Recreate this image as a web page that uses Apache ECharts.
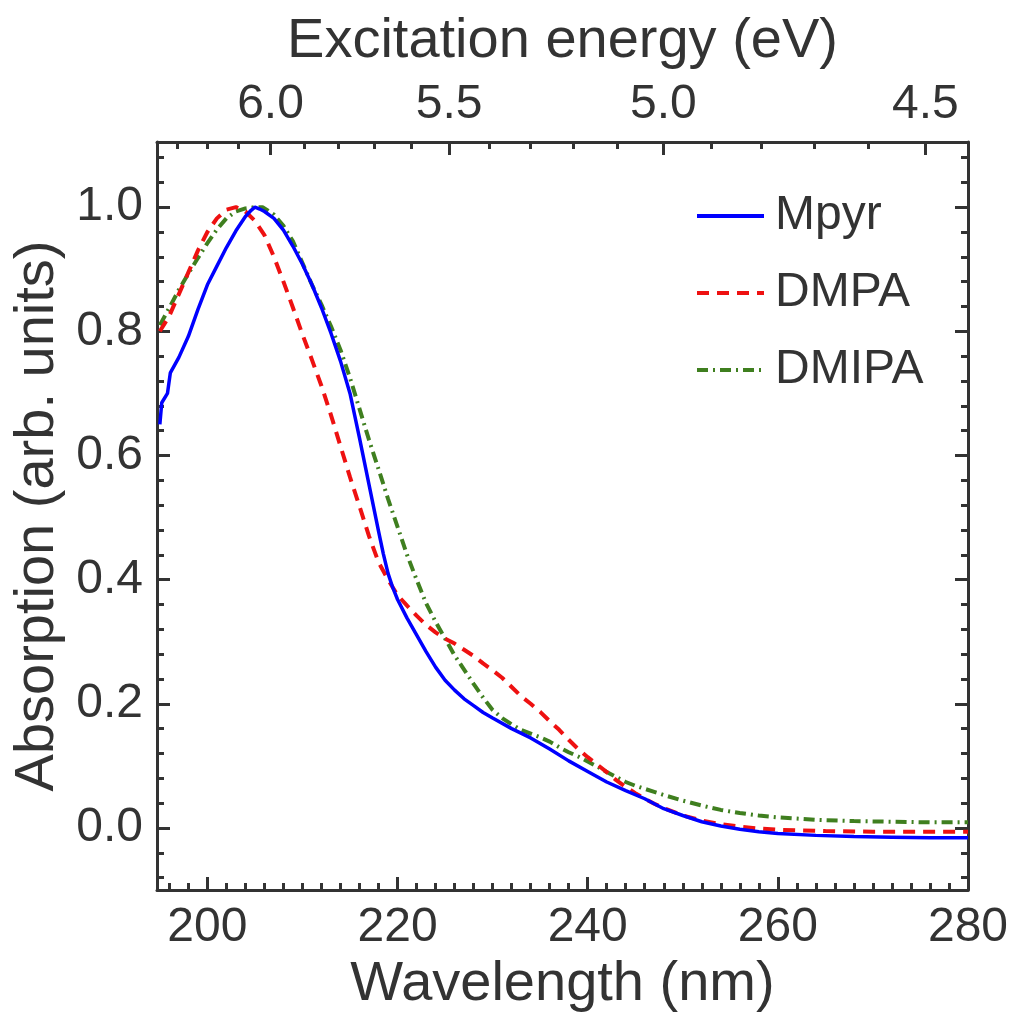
<!DOCTYPE html>
<html>
<head>
<meta charset="utf-8">
<script src="https://cdn.jsdelivr.net/npm/echarts@6/dist/echarts.min.js"></script>
<style>
html,body{margin:0;padding:0;background:#fff;}
#chart{width:1016px;height:1019px;}
</style>
</head>
<body>
<div id="chart"></div>
<script>
// ---------- data ----------
const mpyrWl  = [195.0,195.2,195.8,196.1,197,198,199,200,201,202,203,204,204.6,205,205.5,206,207,208,209,210,211,212,213,214,215,216,217,218,218.5,219,219.5,220,221,222,223,224,225,226,227,228,229,230,232,234,236,238,240,242,244,246,248,250,252,254,256,258,260,264,268,272,276,280];
const mpyrAbs = [0.65,0.685,0.70,0.733,0.758,0.792,0.835,0.875,0.905,0.935,0.962,0.985,0.995,1.0,0.997,0.993,0.982,0.963,0.937,0.908,0.875,0.838,0.797,0.752,0.70,0.628,0.553,0.478,0.442,0.41,0.387,0.368,0.338,0.311,0.284,0.259,0.238,0.222,0.208,0.197,0.186,0.177,0.16,0.145,0.127,0.108,0.091,0.074,0.06,0.047,0.031,0.02,0.01,0.003,-0.002,-0.006,-0.009,-0.012,-0.014,-0.015,-0.016,-0.016];

const dmpaWl  = [195,196,197,198,199,200,201,202,203,204,205,206,207,208,209,210,211,212,213,214,215,216,217,218,219,220,221,222,223,224,225,226,227,228,229,230,231,232,233,234,235,236,237,238,239,240,241,242,243,244,245,246,247,248,250,252,254,256,258,260,265,270,275,280];
const dmpaAbs = [0.80,0.825,0.86,0.895,0.93,0.96,0.982,0.996,1.0,0.993,0.978,0.955,0.92,0.88,0.838,0.795,0.754,0.712,0.665,0.615,0.565,0.518,0.47,0.428,0.40,0.375,0.358,0.342,0.327,0.315,0.305,0.297,0.287,0.277,0.265,0.254,0.242,0.227,0.212,0.20,0.187,0.172,0.158,0.142,0.127,0.114,0.102,0.09,0.077,0.066,0.056,0.047,0.039,0.032,0.02,0.012,0.006,0.002,-0.001,-0.003,-0.005,-0.006,-0.006,-0.006];

const dmipaWl  = [195,196,197,198,199,200,201,202,203,204,205,205.8,206,207,208,209,210,211,212,213,214,215,216,217,218,219,220,221,222,223,224,225,226,227,228,229,230,231,232,233,234,235,236,237,238,239,240,241,242,243,244,245,246,247,248,250,252,254,256,258,260,264,268,272,276,280];
const dmipaAbs = [0.81,0.838,0.867,0.893,0.918,0.942,0.964,0.982,0.993,0.998,1.0,1.0,0.998,0.988,0.97,0.945,0.91,0.875,0.843,0.808,0.77,0.725,0.675,0.625,0.578,0.53,0.485,0.44,0.40,0.362,0.332,0.305,0.278,0.255,0.232,0.21,0.19,0.177,0.167,0.158,0.152,0.146,0.139,0.13,0.122,0.115,0.107,0.099,0.09,0.082,0.074,0.068,0.063,0.058,0.053,0.044,0.036,0.029,0.024,0.02,0.017,0.013,0.011,0.01,0.009,0.009];

const seriesNames = ['Mpyr','DMPA','DMIPA'];
const wlMajorTicks = [200,220,240,260,280];
const wlMinorTicks = [196,198,202,204,206,208,210,212,214,216,218,222,224,226,228,230,232,234,236,238,242,244,246,248,250,252,254,256,258,262,264,266,268,270,272,274,276,278];
const eVMajorTicks = [6.0,5.5,5.0,4.5];
const eVMinorTicks = [6.3,6.2,6.1,5.9,5.8,5.7,5.6,5.4,5.3,5.2,5.1,4.9,4.8,4.7,4.6];
const yMajorTicks = [0.0,0.2,0.4,0.6,0.8,1.0];
const yMinorTicks = [-0.08,-0.04,0.04,0.08,0.12,0.16,0.24,0.28,0.32,0.36,0.44,0.48,0.52,0.56,0.64,0.68,0.72,0.76,0.84,0.88,0.92,0.96,1.04,1.08];
const HC = 1239.84; // eV*nm

// ---------- chart ----------
const FONT = '"Liberation Sans", Arial, Helvetica, sans-serif';
const INK = '#333333';
const X_MIN = 194.7, X_MAX = 280;
const Y_MIN = -0.1, Y_MAX = 1.105;

function pairs(xs, ys){ return xs.map((x,i)=>[x, ys[i]]); }

function xAx(opts){
  return Object.assign({
    type:'value', min:X_MIN, max:X_MAX, splitLine:{show:false},
    axisLine:{show:false, onZero:false}, axisLabel:{show:false}, axisTick:{show:false}
  }, opts);
}
function yAx(opts){
  return Object.assign({
    type:'value', min:Y_MIN, max:Y_MAX, splitLine:{show:false},
    axisLine:{show:false, onZero:false}, axisLabel:{show:false}, axisTick:{show:false}
  }, opts);
}
const lineSt = {color:INK, width:3};

const option = {
  backgroundColor:'#ffffff',
  animation:false,
  grid:{left:157, right:48, top:142, bottom:129, containLabel:false},
  xAxis:[
    xAx({position:'bottom',
      axisLine:{show:true, onZero:false, lineStyle:lineSt},
      axisTick:{show:true, inside:true, length:13, lineStyle:{color:INK,width:3}, customValues:wlMajorTicks},
      axisLabel:{show:true, customValues:wlMajorTicks, margin:14, color:INK, fontSize:48, fontFamily:FONT},
      name:'Wavelength (nm)', nameLocation:'middle', nameGap:48,
      nameTextStyle:{fontSize:56, color:INK, fontFamily:FONT}
    }),
    xAx({position:'bottom',
      axisTick:{show:true, inside:true, length:7, lineStyle:{color:INK,width:3}, customValues:wlMinorTicks}
    }),
    xAx({position:'top',
      axisLine:{show:true, onZero:false, lineStyle:lineSt},
      axisTick:{show:true, inside:true, length:13, lineStyle:{color:INK,width:3}, customValues:eVMajorTicks.map(e=>HC/e)},
      axisLabel:{show:true, customValues:eVMajorTicks.map(e=>HC/e), margin:13, color:INK, fontSize:48, fontFamily:FONT,
        formatter:(v)=>(HC/v).toFixed(1)},
      name:'Excitation energy (eV)', nameLocation:'middle', nameGap:72,
      nameTextStyle:{fontSize:56, color:INK, fontFamily:FONT}
    }),
    xAx({position:'top',
      axisTick:{show:true, inside:true, length:7, lineStyle:{color:INK,width:3}, customValues:eVMinorTicks.map(e=>HC/e)}
    })
  ],
  yAxis:[
    yAx({position:'left',
      axisLine:{show:true, onZero:false, lineStyle:lineSt},
      axisTick:{show:true, inside:true, length:13, lineStyle:{color:INK,width:3}, customValues:yMajorTicks},
      axisLabel:{show:true, customValues:yMajorTicks, margin:14, color:INK, fontSize:48, fontFamily:FONT,
        formatter:(v)=>v.toFixed(1)},
      name:'Absorption (arb. units)', nameLocation:'middle', nameGap:66, nameRotate:90,
      nameTextStyle:{fontSize:56, color:INK, fontFamily:FONT}
    }),
    yAx({position:'left',
      axisTick:{show:true, inside:true, length:7, lineStyle:{color:INK,width:3}, customValues:yMinorTicks}
    }),
    yAx({position:'right',
      axisLine:{show:true, onZero:false, lineStyle:lineSt},
      axisTick:{show:true, inside:true, length:13, lineStyle:{color:INK,width:3}, customValues:yMajorTicks}
    }),
    yAx({position:'right',
      axisTick:{show:true, inside:true, length:7, lineStyle:{color:INK,width:3}, customValues:yMinorTicks}
    })
  ],
  legend:{
    orient:'vertical', left:690, top:187, itemWidth:67, itemHeight:14, itemGap:29,
    itemStyle:{opacity:0},
    lineStyle:{width:4},
    textStyle:{fontSize:48, color:INK, fontFamily:FONT, padding:[0,0,0,6]},
    data:seriesNames
  },
  series:[
    {name:seriesNames[0], type:'line', xAxisIndex:0, yAxisIndex:0, symbol:'none', smooth:false,
      data:pairs(mpyrWl, mpyrAbs), lineStyle:{color:'#0000ff', width:3.5}, itemStyle:{color:'#0000ff'}, z:4},
    {name:seriesNames[1], type:'line', xAxisIndex:0, yAxisIndex:0, symbol:'none', smooth:false,
      data:pairs(dmpaWl, dmpaAbs), lineStyle:{color:'#ee1111', width:4, type:[12,8]}, itemStyle:{color:'#ee1111'}, z:3},
    {name:seriesNames[2], type:'line', xAxisIndex:0, yAxisIndex:0, symbol:'none', smooth:false,
      data:pairs(dmipaWl, dmipaAbs), lineStyle:{color:'#3f7f1f', width:4, type:[11,5,2,5]}, itemStyle:{color:'#3f7f1f'}, z:2}
  ]
};

const chart = echarts.init(document.getElementById('chart'), null, {renderer:'canvas'});
chart.setOption(option);
</script>
</body>
</html>
